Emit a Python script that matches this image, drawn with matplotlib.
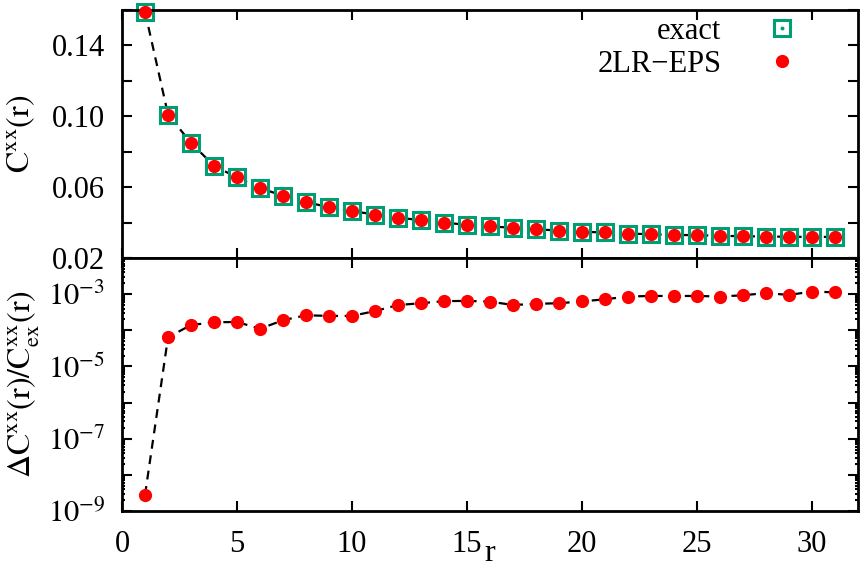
import math
import matplotlib
matplotlib.use('Agg')
import matplotlib.pyplot as plt
import matplotlib.ticker as mticker
from matplotlib.lines import Line2D
from matplotlib.legend_handler import HandlerTuple

plt.rcParams['font.family'] = ['Liberation Serif', 'DejaVu Serif']
plt.rcParams['mathtext.fontset'] = 'stix'
plt.rcParams['font.size'] = 22

r = list(range(1, 32))
c_exact = [0.159, 0.101, 0.085, 0.072, 0.0655, 0.0594, 0.0552, 0.0515, 0.0487,
           0.0465, 0.0445, 0.0428, 0.0413, 0.0400, 0.0387, 0.0379, 0.0370,
           0.0362, 0.0355, 0.0348, 0.0344, 0.0338, 0.0334, 0.0330, 0.0329,
           0.0325, 0.0323, 0.0321, 0.0320, 0.0319, 0.0319]
c_eps = c_exact  # indistinguishable at this scale
rel_err = [2.8e-9, 6.4e-5, 1.4e-4, 1.66e-4, 1.7e-4, 1.1e-4, 1.9e-4, 2.6e-4,
           2.5e-4, 2.5e-4, 3.4e-4, 5.0e-4, 5.6e-4, 6.4e-4, 6.5e-4, 6.2e-4,
           5.0e-4, 5.4e-4, 5.6e-4, 6.3e-4, 7.2e-4, 8.6e-4, 8.9e-4, 8.9e-4,
           8.9e-4, 8.6e-4, 9.3e-4, 1.07e-3, 9.5e-4, 1.18e-3, 1.12e-3]

green = '#009e73'
red = '#ff0000'
dash = (0, (4, 3))

fig = plt.figure(figsize=(8.63, 5.69), dpi=100)
ax1 = fig.add_axes([0.1414, 0.5466, 0.8528, 0.4358])
ax2 = fig.add_axes([0.1414, 0.1019, 0.8528, 0.4447], sharex=ax1)

for ax in (ax1, ax2):
    for s in ax.spines.values():
        s.set_linewidth(2.0)
    ax.tick_params(which='both', direction='in', top=True, right=True,
                   width=1.5, labelsize=22)
    ax.tick_params(which='major', length=7)
    ax.tick_params(axis='y', pad=12)
    ax.tick_params(axis='x', pad=14)

# top panel
ax1.plot(r, c_eps, ls=dash, color='black', lw=1.6, zorder=1)
ax1.plot(r, c_exact, ls='none', marker='s', ms=11.5, mfc='white', mec=green,
         mew=2.2, zorder=2, clip_on=False)
ax1.plot(r, c_eps, ls='none', marker='o', ms=8.5, color=red, zorder=3,
         clip_on=False)
ax1.set_ylim(0.02, 0.16)
ax1.set_xlim(0, 32)
ax1.yaxis.set_major_locator(mticker.MultipleLocator(0.02))
ax1.yaxis.set_major_formatter(mticker.FuncFormatter(
    lambda v, p: '%.2f' % v if round(v / 0.02) % 2 == 1 else ''))
ax1.tick_params(labelbottom=False)
ax1.set_ylabel(r'$\mathrm{C^{xx}(r)}$', fontsize=23)
ax1.yaxis.set_label_coords(-0.115, 0.5)

h_ex = (Line2D([], [], ls='none', marker='s', ms=11.5, mfc='none', mec=green, mew=2.2),
        Line2D([], [], ls='none', marker='o', ms=1.8, color=green))
h_eps = Line2D([], [], ls='none', marker='o', ms=8.5, color=red)
ax1.legend([h_ex, h_eps], ['exact', '2LR\u2212EPS'],
           handler_map={tuple: HandlerTuple(ndivide=1, pad=0)},
           loc='upper right', bbox_to_anchor=(0.943, 1.045), frameon=False,
           markerfirst=False, handlelength=1.0, handletextpad=1.5,
           labelspacing=0.12, fontsize=22, borderaxespad=0.2)

# bottom panel
ax2.plot(r, rel_err, ls=dash, color='black', lw=1.6, zorder=1)
ax2.plot(r, rel_err, ls='none', marker='o', ms=8.5, color=red, zorder=3)
ax2.set_yscale('log')
ax2.set_ylim(1e-9, 1e-2)
ax2.yaxis.set_major_locator(mticker.LogLocator(base=10, numticks=20))
ax2.yaxis.set_major_formatter(mticker.FuncFormatter(
    lambda v, p: (r'$10^{%d}$' % round(math.log10(v)))
    if round(math.log10(v)) % 2 != 0 and v < 5e-3 else ''))
ax2.yaxis.set_minor_locator(mticker.LogLocator(base=10, subs=range(2, 10), numticks=20))
ax2.yaxis.set_minor_formatter(mticker.NullFormatter())
ax2.tick_params(which='minor', length=2)
ax2.set_xticks([0, 5, 10, 15, 20, 25, 30])
ax2.set_xlabel('r', fontsize=23, labelpad=-15)
ax2.set_ylabel(r'$\Delta\mathrm{C^{xx}(r)/C^{xx}_{ex}(r)}$', fontsize=23)
ax2.yaxis.set_label_coords(-0.11, 0.5)

fig.savefig('out.png', dpi=100)
